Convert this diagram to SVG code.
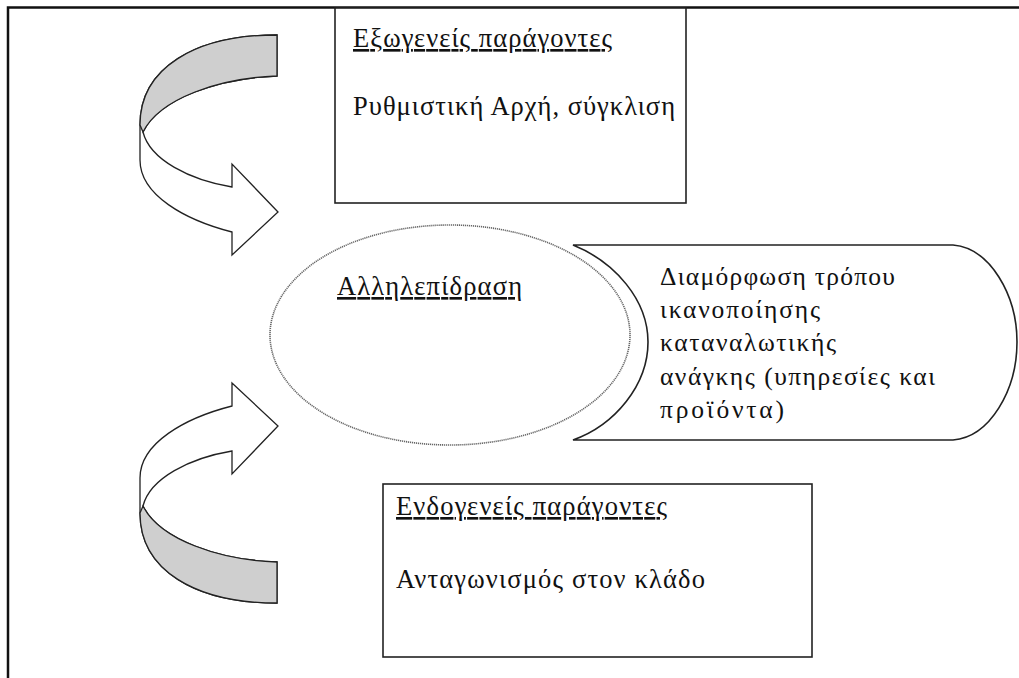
<svg xmlns="http://www.w3.org/2000/svg" width="1019" height="678" viewBox="0 0 1019 678">
  <style>
    .frame { fill: none; stroke: #111; stroke-width: 2.5; }
    .box { fill: #fff; stroke: #222; stroke-width: 1.6; }
    .band { fill: #fff; stroke: #222; stroke-width: 1.3; stroke-linejoin: miter; }
    .back { fill: #cfcfcf; stroke: #222; stroke-width: 1.3; }
    .oval { fill: #fff; stroke: #666; stroke-width: 1.6; stroke-dasharray: 1.2 0.8; }
    .txt { font-family: "Liberation Serif", "DejaVu Serif", serif; font-size: 26.5px; fill: #111; }
    .side { font-size: 25.5px; }
    .head { text-decoration: underline; }
  </style>
  <defs>
    <!-- twisted curved arrow: white front strip plus grey back strip -->
    <g id="curved-arrow">
      <path class="band" d="M277,35 C195,35 140,68 140,125 L140,160 C140,195 185,220 232,232 L232,255 L278,212 L232,164 L232,187 C190,180 150,160 143,132 C160,98 220,78 277,76 Z"/>
      <path class="back" d="M277,35 C195,35 140,68 140,125 L143,132 C160,98 220,78 277,76 Z"/>
    </g>
  </defs>

  <rect width="1019" height="678" fill="#fff"/>

  <!-- outer frame (top and left edges) -->
  <path class="frame" d="M8,678 L8,7.5 L1019,7.5"/>

  <!-- connectors: the two curved arrows -->
  <g id="connectors">
    <use href="#curved-arrow"/>
    <use href="#curved-arrow" transform="matrix(1,0,0,-1,0,638)"/>
  </g>

  <g id="exogenous">
    <rect class="box" x="335" y="8" width="351" height="195"/>
    <text class="txt head" x="353" y="47" textLength="259">Εξωγενείς παράγοντες</text>
    <text class="txt" x="353" y="115" textLength="322">Ρυθμιστική Αρχή, σύγκλιση</text>
  </g>

  <g id="interaction">
    <ellipse class="oval" cx="450" cy="335" rx="180" ry="110"/>
    <text class="txt head" x="337" y="295" textLength="185">Αλληλεπίδραση</text>
  </g>

  <g id="outcome">
    <path class="box" d="M573,245 L953,245 C990,248 1017,295 1017,342 C1017,390 990,437 953,440 L573,440 C615,425 648,385 648,342 C648,300 615,262 573,245 Z"/>
    <text class="txt side" x="660" y="285" textLength="235">Διαμόρφωση τρόπου</text>
    <text class="txt side" x="660" y="318" textLength="160">ικανοποίησης</text>
    <text class="txt side" x="660" y="351" textLength="176">καταναλωτικής</text>
    <text class="txt side" x="660" y="385" textLength="275">ανάγκης (υπηρεσίες και</text>
    <text class="txt side" x="660" y="418" textLength="124">προϊόντα)</text>
  </g>

  <g id="endogenous">
    <rect class="box" x="383" y="484" width="429" height="173"/>
    <text class="txt head" x="396" y="515" textLength="271">Ενδογενείς παράγοντες</text>
    <text class="txt" x="396" y="588" textLength="309">Ανταγωνισμός στον κλάδο</text>
  </g>
</svg>
